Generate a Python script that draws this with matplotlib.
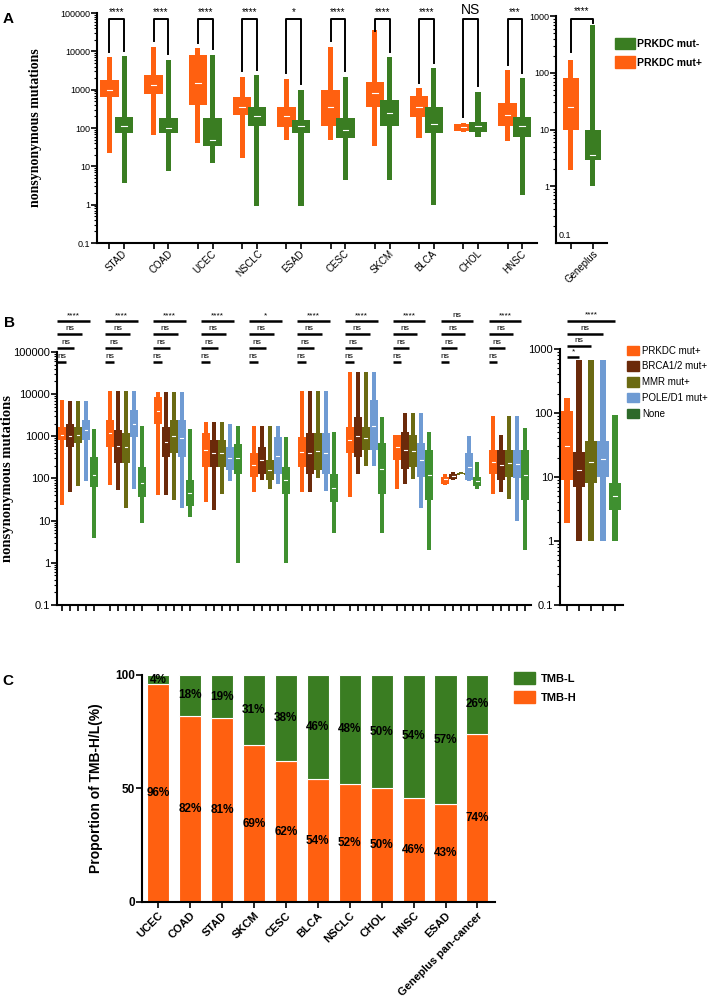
import numpy as np
import matplotlib
matplotlib.use("Agg")
import matplotlib.pyplot as plt
from matplotlib.patches import Patch

plt.rcParams['font.family'] = ['Liberation Sans', 'DejaVu Sans']

ORANGE = "#ff6010"
GREEN = "#3a7d22"
BROWN = "#6b2a0a"
OLIVE = "#6b6a12"
BLUE = "#6f9bd3"
NONE_GREEN = "#3f9030"

# ---------------- data: panel A (min, q1, median, q3, max) ----------------
cancers_a = ["STAD", "COAD", "UCEC", "NSCLC", "ESAD", "CESC", "SKCM", "BLCA", "CHOL", "HNSC"]
mut_pos_a = [
    (22, 650, 1000, 1800, 7000),
    (65, 750, 1300, 2400, 13000),
    (40, 400, 1500, 8000, 12000),
    (17, 220, 350, 650, 2200),
    (48, 105, 200, 350, 1900),
    (48, 110, 350, 1000, 13000),
    (35, 350, 800, 1600, 36000),
    (55, 190, 350, 700, 1100),
    (80, 85, 105, 125, 135),
    (45, 110, 220, 450, 3200),
]
mut_neg_a = [
    (3.6, 75, 110, 190, 7500),
    (7.6, 75, 100, 180, 6000),
    (12, 35, 50, 180, 8000),
    (0.9, 110, 200, 350, 2400),
    (0.9, 75, 110, 160, 1000),
    (4.4, 55, 90, 180, 2200),
    (4.4, 110, 250, 530, 7000),
    (1.0, 75, 130, 350, 3600),
    (60, 80, 115, 140, 870),
    (1.8, 60, 110, 190, 2000),
]
sig_a = ["****", "****", "****", "****", "*", "****", "****", "****", "NS", "***"]
gp_pos_a = (1.9, 10, 25, 80, 168)
gp_neg_a = (1.0, 2.9, 3.5, 10, 690)
sig_gp_a = "****"

# ---------------- data: panel B ----------------
groups_b = ["PRKDC mut+", "BRCA1/2 mut+", "MMR mut+", "POLE/D1 mut+", "None"]
stats_b = {
    "STAD": [(24, 810, 1100, 1700, 7200), (47, 570, 1000, 2000, 7000), (65, 700, 1100, 1700, 7000),
             (85, 800, 1400, 2400, 7000), (3.9, 63, 120, 320, 1500)],
    "COAD": [(70, 570, 1200, 2400, 12000), (53, 230, 600, 1400, 12000), (20, 230, 550, 1200, 12000),
             (57, 980, 2000, 4200, 12000), (8.8, 37, 80, 190, 1800)],
    "UCEC": [(41, 2000, 4000, 8600, 11000), (41, 330, 750, 1700, 11000), (31, 400, 1000, 2400, 11000),
             (20, 330, 900, 2400, 11000), (12, 22, 45, 93, 1500)],
    "NSCLC": [(28, 190, 480, 1200, 2200), (18, 190, 400, 810, 2200), (44, 190, 400, 810, 2200),
              (85, 160, 300, 570, 2000), (1.0, 130, 300, 670, 1800)],
    "ESAD": [(48, 110, 210, 400, 1800), (92, 130, 270, 570, 1800), (57, 92, 160, 270, 1800),
             (75, 130, 350, 980, 1800), (1.0, 44, 90, 190, 980)],
    "CESC": [(48, 190, 430, 980, 12000), (48, 130, 400, 1200, 12000), (100, 160, 440, 1200, 12000),
             (50, 130, 400, 1200, 12000), (5.0, 27, 60, 130, 1300)],
    "SKCM": [(37, 400, 820, 1700, 34000), (130, 330, 1000, 2900, 34000), (200, 470, 900, 1700, 34000),
             (200, 470, 1800, 7200, 34000), (5.0, 44, 170, 680, 2900)],
    "BLCA": [(56, 280, 560, 1100, 1100), (76, 170, 470, 1300, 3600), (95, 190, 450, 1100, 3600),
             (20, 110, 270, 680, 3600), (2.0, 31, 120, 470, 1300)],
    "CHOL": [(70, 75, 95, 110, 130), (90, 95, 115, 130, 140), (120, 122, 130, 135, 140),
             (85, 92, 190, 400, 1000), (57, 65, 85, 110, 240)],
    "HNSC": [(44, 130, 250, 480, 3000), (48, 92, 210, 480, 1100), (33, 110, 230, 480, 3000),
             (10, 100, 220, 480, 3000), (2.0, 31, 120, 470, 1600)],
}
sig_b = {
    "STAD": ["ns", "ns", "ns", "****"], "COAD": ["ns", "ns", "ns", "****"],
    "UCEC": ["ns", "ns", "ns", "****"], "NSCLC": ["ns", "ns", "ns", "****"],
    "ESAD": ["ns", "ns", "ns", "*"], "CESC": ["ns", "ns", "ns", "****"],
    "SKCM": ["ns", "ns", "ns", "****"], "BLCA": ["ns", "ns", "ns", "****"],
    "CHOL": ["ns", "ns", "ns", "ns"], "HNSC": ["ns", "ns", "ns", "****"],
}
gp_b = [(1.9, 9, 30, 106, 171), (1.0, 7, 13, 25, 680), (1.0, 8, 17, 36, 680),
        (1.0, 10, 19, 36, 680), (1.0, 3.1, 5, 8, 94)]
sig_gp_b = ["*", "ns", "ns", "****"]
colors_b = [ORANGE, BROWN, OLIVE, BLUE, NONE_GREEN]

# ---------------- data: panel C ----------------
cancers_c = ["UCEC", "COAD", "STAD", "SKCM", "CESC", "BLCA", "NSCLC", "CHOL", "HNSC", "ESAD",
             "Geneplus pan-cancer"]
tmb_h = [96, 82, 81, 69, 62, 54, 52, 50, 46, 43, 74]
tmb_l = [4, 18, 19, 31, 38, 46, 48, 50, 54, 57, 26]


def draw_shape(ax, x, st, color, wn, ww):
    lo, q1, med, q3, hi = st
    ax.bar(x, hi - lo, bottom=lo, width=wn, color=color, linewidth=0, zorder=2)
    ax.bar(x, q3 - q1, bottom=q1, width=ww, color=color, linewidth=0, zorder=3)
    ax.plot([x - ww * 0.15, x + ww * 0.15], [med, med], color="white", lw=0.8, zorder=4)


def style_log(ax, lab_size):
    ax.set_yscale("log")
    for s in ["top", "right"]:
        ax.spines[s].set_visible(False)
    for s in ["left", "bottom"]:
        ax.spines[s].set_linewidth(1.5)
    ax.tick_params(axis="y", which="major", length=4, width=1.2, labelsize=lab_size, pad=1)
    ax.tick_params(axis="y", which="minor", length=2, width=0.8)
    ax.tick_params(axis="x", which="major", length=4, width=1.2)


def fmt(v):
    return "0.1" if v < 1 else str(int(v))


def sig_text(ax, txt, x, y, fs):
    ax.annotate(txt, (x, y), xytext=(0, 1.5), textcoords="offset points", ha="center",
                va="bottom", fontsize=fs, annotation_clip=False)


fig = plt.figure(figsize=(7.09, 9.96), dpi=100)

# ================= Panel A =================
axA = fig.add_axes([0.1368, 0.756, 0.6206, 0.2309])
style_log(axA, 6.5)
pos_pos = [3 * i + 1 for i in range(len(cancers_a))]
pos_neg = [3 * i + 2 for i in range(len(cancers_a))]
for i in range(len(cancers_a)):
    draw_shape(axA, pos_pos[i], mut_pos_a[i], ORANGE, 0.35, 1.25)
    draw_shape(axA, pos_neg[i], mut_neg_a[i], GREEN, 0.35, 1.25)
    ybar = 10 ** 4.84
    l1 = min(mut_pos_a[i][4] * 1.4, ybar * 0.5)
    l2 = min(mut_neg_a[i][4] * 1.4, ybar * 0.5)
    axA.plot([pos_pos[i], pos_pos[i], pos_neg[i], pos_neg[i]], [l1, ybar, ybar, l2],
             color="black", lw=1.4, clip_on=False)
    fs = 10 if sig_a[i] == "NS" else 7
    sig_text(axA, sig_a[i], (pos_pos[i] + pos_neg[i]) / 2, ybar, fs)
axA.set_ylim(0.1, 1e5)
yt = [0.1, 1, 10, 100, 1000, 10000, 100000]
axA.set_yticks(yt, [fmt(v) for v in yt])
axA.set_xlim(0.16, 30.0)
axA.set_xticks(pos_pos + pos_neg, [])
axA.set_xticks([(a + b) / 2 for a, b in zip(pos_pos, pos_neg)], cancers_a, minor=True)
axA.tick_params(axis="x", which="minor", length=0, labelsize=7, rotation=45, pad=4)
axA.set_ylabel("nonsynonymous mutations", family="Liberation Serif", fontweight="bold",
               fontsize=10)
axA.yaxis.set_label_coords(-0.125, 0.5)

axA2 = fig.add_axes([0.7842, 0.756, 0.0719, 0.2279])
style_log(axA2, 6.5)
draw_shape(axA2, 0, gp_pos_a, ORANGE, 0.23, 0.75)
draw_shape(axA2, 1, gp_neg_a, GREEN, 0.23, 0.75)
axA2.plot([0, 0, 1, 1], [230, 900, 900, 750], color="black", lw=1.4, clip_on=False)
sig_text(axA2, sig_gp_a, 0.5, 900, 7)
axA2.set_ylim(0.1, 1000)
axA2.set_yticks([1, 10, 100, 1000], ["1", "10", "100", "1000"])
axA2.text(0.06, 0.012, "0.1", transform=axA2.transAxes, fontsize=6.5, ha="left", va="bottom")
axA2.set_xlim(-0.68, 1.64)
axA2.set_xticks([0, 1], [])
axA2.set_xticks([0.5], ["Geneplus"], minor=True)
axA2.tick_params(axis="x", which="minor", length=0, labelsize=7, rotation=45, pad=4)

fig.legend(handles=[Patch(color=GREEN, label="PRKDC mut-"), Patch(color=ORANGE, label="PRKDC mut+")],
           loc="upper left", bbox_to_anchor=(0.868, 0.962), frameon=False, borderaxespad=0,
           borderpad=0, prop={"weight": "bold", "size": 7.5}, handlelength=1.9, handleheight=1.3,
           handletextpad=0.2, labelspacing=0.7)

# ================= Panel B =================
axB = fig.add_axes([0.0804, 0.3926, 0.6685, 0.254])
style_log(axB, 8)
starts = [6 * i for i in range(len(cancers_a))]
all_pos = []
line_h = [10 ** 4.76, 10 ** 5.09, 10 ** 5.43, 10 ** 5.73]
for i, c in enumerate(cancers_a):
    p0 = starts[i]
    for k in range(5):
        draw_shape(axB, p0 + k, stats_b[c][k], colors_b[k], 0.5, 1.0)
        all_pos.append(p0 + k)
    for k in range(4):
        x1 = p0 - 0.6
        x2 = p0 + k + 1 - 0.5
        axB.plot([x1, x2], [line_h[k], line_h[k]], color="black", lw=1.8,
                 solid_capstyle="butt", clip_on=False)
        sig_text(axB, sig_b[c][k], (x1 + x2) / 2, line_h[k], 6)
axB.set_ylim(0.1, 1e5)
axB.set_yticks(yt, [fmt(v) for v in yt])
axB.set_xlim(-0.6, 58.7)
axB.set_xticks(all_pos, [])
axB.set_xticks([s + 2 for s in starts], cancers_a, minor=True)
axB.tick_params(axis="x", which="minor", length=0, labelsize=7.5, rotation=45, pad=4)
axB.set_ylabel("nonsynonymous mutations", family="Liberation Serif", fontweight="bold",
               fontsize=10.5)
axB.yaxis.set_label_coords(-0.09, 0.5)

axB2 = fig.add_axes([0.7898, 0.3926, 0.0889, 0.257])
style_log(axB2, 8)
for k in range(5):
    draw_shape(axB2, k, gp_b[k], colors_b[k], 0.5, 1.0)
gp_line_h = [10 ** 2.875, 10 ** 3.05, 10 ** 3.23, 10 ** 3.44]
for k in range(4):
    axB2.plot([0, k + 1], [gp_line_h[k], gp_line_h[k]], color="black", lw=1.8,
              solid_capstyle="butt", clip_on=False)
    sig_text(axB2, sig_gp_b[k], (k + 1) / 2, gp_line_h[k], 6)
axB2.set_ylim(0.1, 1000)
axB2.set_yticks([0.1, 1, 10, 100, 1000], ["0.1", "1", "10", "100", "1000"])
axB2.set_xlim(-0.6, 4.65)
axB2.set_xticks(range(5), [])
axB2.set_xticks([2], ["Geneplus"], minor=True)
axB2.tick_params(axis="x", which="minor", length=0, labelsize=7.5, rotation=45, pad=4)

fig.legend(handles=[Patch(color=c, label=g) for c, g in zip([ORANGE, BROWN, OLIVE, BLUE, "#2d6a2a"], groups_b)],
           loc="upper left", bbox_to_anchor=(0.884, 0.653), frameon=False, borderaxespad=0,
           borderpad=0, prop={"size": 7}, handlelength=1.3, handleheight=1.1,
           handletextpad=0.3, labelspacing=0.6)

# ================= Panel C =================
axC = fig.add_axes([0.2003, 0.0944, 0.4979, 0.2279])
xc = np.arange(len(cancers_c))
axC.bar(xc, tmb_h, width=0.69, color=ORANGE, edgecolor="white", linewidth=0.8)
axC.bar(xc, tmb_l, bottom=tmb_h, width=0.69, color=GREEN, edgecolor="white", linewidth=0.8)
for i in range(len(cancers_c)):
    axC.text(xc[i], tmb_h[i] / 2, f"{tmb_h[i]}%", ha="center", va="center",
             fontsize=8.5, fontweight="bold")
    axC.text(xc[i], tmb_h[i] + tmb_l[i] / 2 if tmb_l[i] > 5 else 98, f"{tmb_l[i]}%",
             ha="center", va="center", fontsize=8.5, fontweight="bold")
axC.set_ylim(0, 100)
axC.set_xlim(-0.5, 10.55)
axC.set_yticks([0, 50, 100])
axC.set_xticks(xc)
axC.set_xticklabels(cancers_c, rotation=45, ha="right", rotation_mode="anchor",
                    fontweight="bold", fontsize=8)
for lab in axC.get_yticklabels():
    lab.set_fontweight("bold")
axC.tick_params(axis="y", labelsize=8.5, length=4, width=1.2, pad=1)
axC.tick_params(axis="x", length=4, width=1.2, pad=2)
for s in ["top", "right"]:
    axC.spines[s].set_visible(False)
for s in ["left", "bottom"]:
    axC.spines[s].set_linewidth(1.5)
axC.set_ylabel("Proportion of TMB-H/L(%)", fontweight="bold", fontsize=10)
axC.yaxis.set_label_coords(-0.11, 0.5)

fig.legend(handles=[Patch(color=GREEN, label="TMB-L"), Patch(color=ORANGE, label="TMB-H")],
           loc="upper left", bbox_to_anchor=(0.725, 0.325), frameon=False, borderaxespad=0,
           borderpad=0, prop={"weight": "bold", "size": 8}, handlelength=1.9, handleheight=1.3,
           handletextpad=0.5, labelspacing=0.6)

# panel letters
fig.text(0.004, 0.988, "A", fontsize=11, fontweight="bold", va="top")
fig.text(0.006, 0.683, "B", fontsize=11, fontweight="bold", va="top")
fig.text(0.004, 0.323, "C", fontsize=11, fontweight="bold", va="top")

fig.savefig("out.png", dpi=100)
